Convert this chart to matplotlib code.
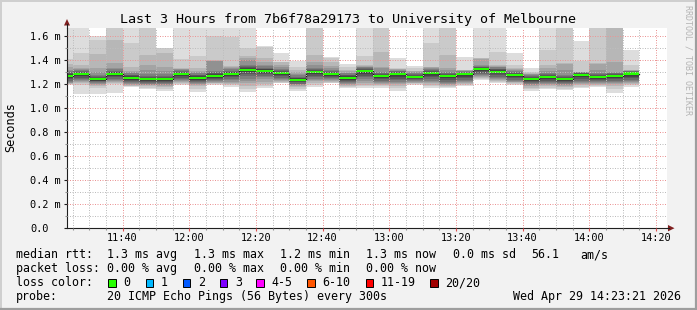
import numpy as np
import pandas as pd
import matplotlib
matplotlib.use('Agg')
import matplotlib.pyplot as plt
import matplotlib.dates as mdates
from matplotlib.patches import Rectangle, Polygon
from matplotlib.ticker import MultipleLocator, FuncFormatter

W, H = 697, 310
plt.rcParams['font.family'] = ['DejaVu Sans Mono']

# ---- data: one round of 20 pings every 5 minutes (values in ms) ----
BAR_START = pd.date_range('2026-04-29 11:20', periods=35, freq='5min')
MEDIAN = [1.270, 1.281, 1.239, 1.286, 1.253, 1.244, 1.244, 1.281, 1.253, 1.270,
          1.286, 1.320, 1.311, 1.294, 1.236, 1.300, 1.285, 1.253, 1.305, 1.268,
          1.280, 1.260, 1.290, 1.268, 1.280, 1.322, 1.303, 1.277, 1.240, 1.260,
          1.243, 1.275, 1.260, 1.267, 1.287]
# sorted rtt of the 20 pings of each round (above ~1.67 = off the chart)
PINGS = [
    [1.195, 1.197, 1.20, 1.205, 1.212, 1.22, 1.228, 1.24, 1.252, 1.264, 1.274, 1.28, 1.288, 1.296, 1.305, 1.32, 1.34, 1.37, 1.41, 1.90],
    [1.115, 1.19, 1.208, 1.215, 1.223, 1.231, 1.239, 1.251, 1.263, 1.275, 1.285, 1.291, 1.299, 1.307, 1.316, 1.325, 1.335, 1.358, 1.456, 1.95],
    [1.114, 1.164, 1.185, 1.195, 1.203, 1.208, 1.214, 1.221, 1.228, 1.234, 1.243, 1.249, 1.257, 1.265, 1.274, 1.30, 1.336, 1.447, 1.567, 1.60],
    [1.128, 1.197, 1.212, 1.22, 1.228, 1.236, 1.244, 1.256, 1.268, 1.28, 1.29, 1.296, 1.304, 1.312, 1.321, 1.335, 1.372, 1.567, 1.85, 2.0],
    [1.172, 1.18, 1.187, 1.194, 1.2, 1.207, 1.215, 1.225, 1.237, 1.247, 1.257, 1.263, 1.271, 1.279, 1.288, 1.30, 1.31, 1.345, 1.539, 1.9],
    [1.158, 1.17, 1.18, 1.188, 1.194, 1.2, 1.206, 1.216, 1.228, 1.238, 1.248, 1.254, 1.262, 1.27, 1.28, 1.32, 1.358, 1.442, 1.8, 2.1],
    [1.144, 1.16, 1.172, 1.182, 1.19, 1.197, 1.205, 1.216, 1.228, 1.238, 1.248, 1.254, 1.262, 1.27, 1.28, 1.31, 1.34, 1.46, 1.497, 1.503],
    [1.19, 1.2, 1.21, 1.218, 1.226, 1.233, 1.241, 1.253, 1.265, 1.275, 1.285, 1.291, 1.299, 1.307, 1.316, 1.322, 1.328, 1.335, 1.41, 1.9],
    [1.136, 1.16, 1.18, 1.192, 1.2, 1.206, 1.214, 1.225, 1.237, 1.247, 1.257, 1.263, 1.271, 1.279, 1.288, 1.30, 1.31, 1.331, 1.43, 1.95],
    [1.19, 1.198, 1.205, 1.212, 1.218, 1.223, 1.23, 1.242, 1.254, 1.264, 1.274, 1.28, 1.288, 1.296, 1.305, 1.39, 1.395, 1.40, 1.60, 2.0],
    [1.178, 1.19, 1.2, 1.21, 1.22, 1.23, 1.242, 1.256, 1.268, 1.28, 1.29, 1.296, 1.304, 1.312, 1.321, 1.33, 1.34, 1.35, 1.594, 1.9],
    [1.136, 1.16, 1.185, 1.206, 1.225, 1.245, 1.265, 1.282, 1.298, 1.312, 1.324, 1.33, 1.338, 1.346, 1.36, 1.40, 1.42, 1.43, 1.497, 1.95],
    [1.164, 1.18, 1.2, 1.22, 1.238, 1.255, 1.268, 1.281, 1.294, 1.305, 1.315, 1.321, 1.329, 1.337, 1.346, 1.36, 1.38, 1.414, 1.51, 1.517],
    [1.205, 1.212, 1.22, 1.228, 1.236, 1.244, 1.254, 1.266, 1.278, 1.288, 1.298, 1.304, 1.312, 1.32, 1.329, 1.34, 1.36, 1.38, 1.386, 1.456],
    [1.145, 1.16, 1.172, 1.18, 1.188, 1.196, 1.204, 1.214, 1.225, 1.231, 1.24, 1.246, 1.254, 1.262, 1.271, 1.28, 1.30, 1.32, 1.34, 1.39],
    [1.178, 1.195, 1.21, 1.222, 1.232, 1.242, 1.255, 1.27, 1.282, 1.294, 1.304, 1.31, 1.318, 1.326, 1.335, 1.36, 1.386, 1.442, 1.85, 2.0],
    [1.205, 1.212, 1.22, 1.228, 1.236, 1.243, 1.25, 1.26, 1.27, 1.279, 1.289, 1.295, 1.303, 1.311, 1.32, 1.33, 1.35, 1.386, 1.418, 1.422],
    [1.165, 1.175, 1.185, 1.193, 1.2, 1.207, 1.215, 1.225, 1.237, 1.247, 1.257, 1.263, 1.271, 1.279, 1.288, 1.295, 1.305, 1.32, 1.345, 1.37],
    [1.165, 1.18, 1.195, 1.21, 1.225, 1.24, 1.255, 1.27, 1.285, 1.299, 1.309, 1.315, 1.323, 1.331, 1.34, 1.345, 1.35, 1.36, 1.43, 1.9],
    [1.17, 1.182, 1.192, 1.2, 1.208, 1.216, 1.226, 1.24, 1.252, 1.262, 1.272, 1.278, 1.286, 1.294, 1.303, 1.33, 1.344, 1.47, 1.8, 2.0],
    [1.145, 1.165, 1.185, 1.2, 1.21, 1.22, 1.232, 1.245, 1.26, 1.274, 1.284, 1.29, 1.298, 1.306, 1.312, 1.318, 1.323, 1.327, 1.33, 1.414],
    [1.195, 1.2, 1.205, 1.21, 1.215, 1.222, 1.23, 1.24, 1.249, 1.255, 1.264, 1.27, 1.278, 1.286, 1.295, 1.30, 1.305, 1.31, 1.33, 1.353],
    [1.164, 1.18, 1.195, 1.207, 1.218, 1.228, 1.24, 1.255, 1.27, 1.284, 1.294, 1.30, 1.308, 1.316, 1.325, 1.333, 1.34, 1.344, 1.539, 1.95],
    [1.17, 1.178, 1.186, 1.194, 1.2, 1.206, 1.218, 1.232, 1.248, 1.262, 1.272, 1.278, 1.286, 1.294, 1.303, 1.32, 1.33, 1.442, 1.8, 2.0],
    [1.185, 1.193, 1.2, 1.208, 1.215, 1.223, 1.235, 1.248, 1.262, 1.274, 1.284, 1.29, 1.295, 1.30, 1.305, 1.309, 1.313, 1.315, 1.317, 1.428],
    [1.235, 1.245, 1.252, 1.26, 1.267, 1.274, 1.282, 1.295, 1.306, 1.316, 1.326, 1.332, 1.34, 1.345, 1.35, 1.36, 1.41, 1.415, 1.42, 1.95],
    [1.21, 1.218, 1.225, 1.232, 1.24, 1.248, 1.26, 1.274, 1.288, 1.297, 1.307, 1.313, 1.321, 1.329, 1.338, 1.345, 1.35, 1.358, 1.47, 1.9],
    [1.19, 1.198, 1.206, 1.213, 1.22, 1.228, 1.237, 1.25, 1.262, 1.271, 1.281, 1.287, 1.295, 1.303, 1.31, 1.316, 1.322, 1.33, 1.358, 1.456],
    [1.145, 1.158, 1.17, 1.18, 1.19, 1.198, 1.206, 1.216, 1.226, 1.234, 1.244, 1.25, 1.258, 1.265, 1.272, 1.28, 1.287, 1.295, 1.303, 1.331],
    [1.155, 1.168, 1.18, 1.19, 1.198, 1.206, 1.216, 1.228, 1.242, 1.254, 1.264, 1.27, 1.278, 1.286, 1.295, 1.31, 1.33, 1.358, 1.483, 1.95],
    [1.148, 1.16, 1.172, 1.182, 1.19, 1.198, 1.206, 1.216, 1.228, 1.237, 1.247, 1.253, 1.261, 1.269, 1.278, 1.317, 1.365, 1.372, 1.85, 2.05],
    [1.164, 1.178, 1.19, 1.2, 1.21, 1.218, 1.228, 1.242, 1.256, 1.269, 1.279, 1.284, 1.288, 1.292, 1.296, 1.299, 1.301, 1.303, 1.392, 1.558],
    [1.175, 1.185, 1.192, 1.2, 1.207, 1.214, 1.222, 1.232, 1.244, 1.254, 1.264, 1.27, 1.278, 1.286, 1.295, 1.317, 1.365, 1.372, 1.8, 2.0],
    [1.128, 1.16, 1.185, 1.2, 1.21, 1.218, 1.226, 1.238, 1.25, 1.261, 1.271, 1.277, 1.285, 1.29, 1.295, 1.30, 1.386, 1.8, 1.95, 2.1],
    [1.178, 1.188, 1.197, 1.206, 1.214, 1.222, 1.232, 1.246, 1.26, 1.281, 1.291, 1.297, 1.302, 1.306, 1.309, 1.312, 1.315, 1.317, 1.358, 1.483],
]
Y_TICKS = [0.0, 0.2, 0.4, 0.6, 0.8, 1.0, 1.2, 1.4, 1.6]
LOSS_LABELS = ['0', '1', '2', '3', '4-5', '6-10', '11-19', '20/20']
LOSS_COLORS = ['#26ff00', '#00b8ff', '#0059ff', '#7e00ff', '#ff00ff',
               '#ff5500', '#ff0000', '#a10000']

T0 = pd.Timestamp('2026-04-29 11:23:21')
T1 = pd.Timestamp('2026-04-29 14:23:21')
YMAX = 200.5 / 120          # plot is 200.5 px tall, 120 px per ms

fig = plt.figure(figsize=(W / 100, H / 100), dpi=100, facecolor='#f2f2f2')
ax = fig.add_axes([67 / W, (H - 228) / H, 600 / W, 200.5 / H])
ax.set_facecolor('white')

pings = np.sort(np.array(PINGS), axis=1)
med = np.array(MEDIAN)
edges = pd.date_range(BAR_START[0], periods=len(BAR_START) + 1, freq='5min')


def ext(a):
    return np.append(a, a[-1])


# smoke: outer pair lightest, inner pair darkest (smokeping style)
half = pings.shape[1] // 2
for i in range(half):
    g = int(190 / half * (half - 1 - i)) + 50
    ax.fill_between(edges, ext(pings[:, i]), ext(pings[:, -1 - i]),
                    step='post', color='#%02x%02x%02x' % (g, g, g),
                    lw=0, antialiased=False, zorder=1)

ax.step(edges, ext(med), where='post', color='#1a1a1a', lw=0.9, zorder=2)
ax.fill_between(edges, ext(med) - 0.009, ext(med) + 0.009, step='post',
                color=LOSS_COLORS[0], lw=0, antialiased=False, zorder=2)

ax.set_xlim(T0, T1)
ax.set_ylim(0, YMAX)

ax.xaxis.set_major_locator(mdates.MinuteLocator(byminute=[0, 20, 40]))
ax.xaxis.set_minor_locator(mdates.MinuteLocator(byminute=range(0, 60, 5)))
ax.xaxis.set_major_formatter(mdates.DateFormatter('%H:%M'))
ax.set_yticks(Y_TICKS)
ax.yaxis.set_minor_locator(MultipleLocator(0.1))
ax.yaxis.set_major_formatter(FuncFormatter(
    lambda v, p: '0.0' if abs(v) < 1e-9 else '%.1f m' % v))

ax.set_axisbelow(False)
ax.grid(which='major', color='#eb9595', lw=0.72, ls=(0, (1, 1.5)))
ax.grid(which='minor', color='#bdbdbd', lw=0.72, ls=(0, (1, 1.5)))

for s in ('top', 'right'):
    ax.spines[s].set_visible(False)
for s in ('left', 'bottom'):
    ax.spines[s].set_color('#1f1f1f')
    ax.spines[s].set_linewidth(0.8)

ax.tick_params(axis='x', which='major', length=2.2, width=0.8, color='#de5050',
               labelsize=7.4, pad=1.4)
ax.tick_params(axis='x', which='minor', length=1.5, width=0.8, color='#909090')
ax.tick_params(axis='y', which='major', length=2.2, width=0.8, color='#1f1f1f',
               labelsize=7.4, pad=24.5)
ax.tick_params(axis='y', which='minor', length=1.5, width=0.8, color='#909090')
for lab in ax.get_yticklabels():
    lab.set_horizontalalignment('left')

# ---- overlay in pixel coordinates for texts / frame ----
ov = fig.add_axes([0, 0, 1, 1], zorder=5)
ov.set_xlim(0, W)
ov.set_ylim(H, 0)
ov.axis('off')
ov.patch.set_alpha(0)

# 3d frame
ov.plot([0, W], [0.5, 0.5], color='#cfcfcf', lw=1.4, solid_capstyle='butt')
ov.plot([0.5, 0.5], [0, H], color='#cfcfcf', lw=1.4, solid_capstyle='butt')
ov.plot([0, W], [H - 1, H - 1], color='#9e9e9e', lw=1.6, solid_capstyle='butt')
ov.plot([W - 1, W - 1], [0, H], color='#9e9e9e', lw=1.6, solid_capstyle='butt')

# axis arrows
ov.plot([67, 67], [28, 24], color='#1f1f1f', lw=0.8)
ov.add_patch(Polygon([[64, 25.5], [70, 25.5], [67, 19]], closed=True,
                     color='#801f1f', lw=0))
ov.plot([667, 669], [228.2, 228.2], color='#1f1f1f', lw=0.8)
ov.add_patch(Polygon([[668, 225], [668, 231.4], [674.5, 228.2]], closed=True,
                     color='#801f1f', lw=0))

ov.text(348.5, 19, 'Last 3 Hours from 7b6f78a29173 to University of Melbourne',
        ha='center', va='center', fontsize=9.6)
ov.text(11, 127, 'Seconds', rotation=90, ha='center', va='center', fontsize=8.6)
ov.text(688, 60, 'RRDTOOL / TOBI OETIKER', rotation=270, ha='center',
        va='center', fontsize=6, color='#b4b4b4')

LEG = dict(va='center', fontsize=8.4)
row1 = [(16, 'median rtt:'), (107, '1.3 ms avg'), (194, '1.3 ms max'),
        (280, '1.2 ms min'), (366, '1.3 ms now'), (453, '0.0 ms sd'),
        (531, '56.1'), (580, 'am/s')]
row2 = [(16, 'packet loss:'), (107, '0.00 % avg'), (194, '0.00 % max'),
        (280, '0.00 % min'), (366, '0.00 % now')]
for x, s in row1:
    ov.text(x, 254.5, s, **LEG)
for x, s in row2:
    ov.text(x, 268.5, s, **LEG)

ov.text(16, 282.5, 'loss color:', **LEG)
box_x = [108, 145.5, 182.5, 219.5, 256, 307, 365.5, 430]
for x, lab, col in zip(box_x, LOSS_LABELS, LOSS_COLORS):
    ov.add_patch(Rectangle((x, 279), 7.5, 7.5, facecolor=col,
                           edgecolor='black', lw=0.7))
    ov.text(x + 15.5, 282.5, lab, **LEG)

ov.text(16, 296.5, 'probe:', **LEG)
ov.text(107, 296.5, '20 ICMP Echo Pings (56 Bytes) every 300s', **LEG)
ov.text(681, 296.5, 'Wed Apr 29 14:23:21 2026', ha='right', va='center',
        fontsize=8.4)

fig.savefig('out.png', dpi=100, facecolor=fig.get_facecolor())
